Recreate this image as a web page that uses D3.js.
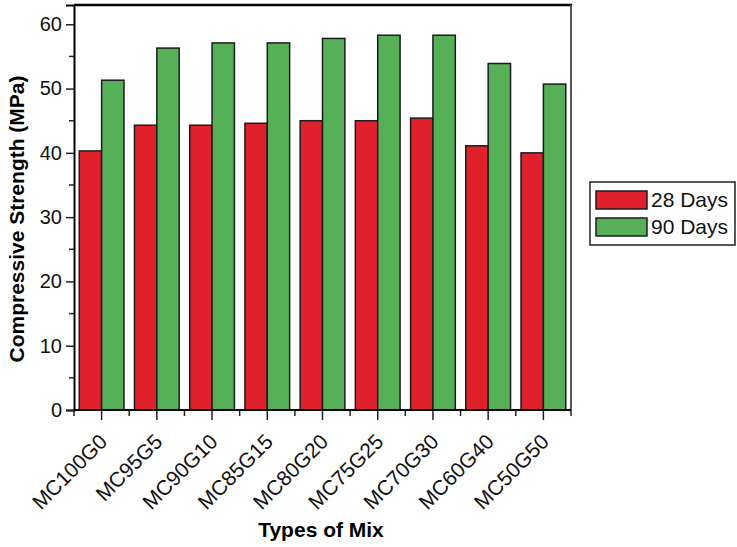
<!DOCTYPE html>
<html>
<head>
<meta charset="utf-8">
<script src="https://cdn.jsdelivr.net/npm/d3@7"></script>
<style>
  html, body { margin: 0; padding: 0; background: #fff; }
  svg { display: block; font-family: "Liberation Sans", Arial, Helvetica, sans-serif; }
</style>
</head>
<body>
<svg id="chart" width="737" height="547"></svg>
<script>
// Mix designations and compressive strength (MPa) at two curing ages
const mixes = ["MC100G0", "MC95G5", "MC90G10", "MC85G15", "MC80G20", "MC75G25", "MC70G30", "MC60G40", "MC50G50"];
const seriesNames = ["28 Days", "90 Days"];
const days28 = [40.3, 44.3, 44.3, 44.6, 45.0, 45.0, 45.4, 41.1, 40.0];
const days90 = [51.3, 56.3, 57.1, 57.1, 57.8, 58.3, 58.3, 53.9, 50.7];
const yTicks = [0, 10, 20, 30, 40, 50, 60];
const yMinorTicks = [5, 15, 25, 35, 45, 55];
const colors = ["#e0202a", "#55b058"];

const svg = d3.select("#chart");
const plotLeft = 74, plotRight = 571, plotTop = 5, plotBottom = 410;

const x0 = d3.scaleBand().domain(mixes).range([plotLeft, plotRight]).paddingInner(0.19).paddingOuter(0.095);
const x1 = d3.scaleBand().domain(seriesNames).range([0, x0.bandwidth()]);
const y = d3.scaleLinear().domain([0, 63]).range([plotBottom, plotTop]);

const seriesValues = [days28, days90];

// bars
const groups = svg.append("g").selectAll("g")
  .data(mixes)
  .join("g")
  .attr("transform", d => `translate(${x0(d)},0)`);

groups.selectAll("rect")
  .data((d, i) => seriesNames.map((s, k) => ({ s, k, v: seriesValues[k][i] })))
  .join("rect")
  .attr("x", d => x1(d.s))
  .attr("y", d => y(d.v))
  .attr("width", x1.bandwidth())
  .attr("height", d => y(0) - y(d.v))
  .attr("fill", d => colors[d.k])
  .attr("stroke", "#1c1c1c")
  .attr("stroke-width", 1.5);

// frame: top and right edges
svg.append("line").attr("x1", plotLeft).attr("x2", plotRight + 1).attr("y1", plotTop).attr("y2", plotTop)
  .attr("stroke", "#000").attr("stroke-width", 2.5);
svg.append("line").attr("x1", plotRight).attr("x2", plotRight).attr("y1", plotTop).attr("y2", plotBottom)
  .attr("stroke", "#555").attr("stroke-width", 2);

// y axis
const yAxis = svg.append("g").attr("transform", `translate(${plotLeft},0)`)
  .call(d3.axisLeft(y).tickValues(yTicks).tickSize(8).tickPadding(4).tickFormat(d3.format("d")));
yAxis.attr("font-family", null);
yAxis.select(".domain").attr("stroke", "#000").attr("stroke-width", 2);
yAxis.selectAll(".tick line").attr("stroke", "#222").attr("stroke-width", 1.5);
yAxis.selectAll(".tick text").attr("font-size", 20).attr("fill", "#111");
svg.append("g").selectAll("line").data(yMinorTicks).join("line")
  .attr("x1", plotLeft - 5).attr("x2", plotLeft).attr("y1", d => y(d)).attr("y2", d => y(d))
  .attr("stroke", "#222").attr("stroke-width", 1.5);

// x axis: major ticks at group centres, minor ticks between groups
const xAxis = svg.append("g").attr("transform", `translate(0,${plotBottom})`);
xAxis.append("line").attr("x1", plotLeft).attr("x2", plotRight).attr("stroke", "#000").attr("stroke-width", 2);
xAxis.selectAll(".major").data(mixes).join("line").attr("class", "major")
  .attr("x1", d => x0(d) + x0.bandwidth() / 2).attr("x2", d => x0(d) + x0.bandwidth() / 2)
  .attr("y1", 0).attr("y2", 10).attr("stroke", "#222").attr("stroke-width", 1.5);
const step = x0.step();
xAxis.selectAll(".minor").data(d3.range(mixes.length + 1)).join("line").attr("class", "minor")
  .attr("x1", i => plotLeft + i * step).attr("x2", i => plotLeft + i * step)
  .attr("y1", 0).attr("y2", 6).attr("stroke", "#222").attr("stroke-width", 1.5);
xAxis.selectAll("text").data(mixes).join("text")
  .attr("transform", d => `translate(${x0(d) + x0.bandwidth() / 2 + 7},${33}) rotate(-45)`)
  .attr("text-anchor", "end")
  .attr("font-size", 21)
  .attr("fill", "#111")
  .text(d => d);

// axis titles
svg.append("text")
  .attr("x", 321).attr("y", 537)
  .attr("text-anchor", "middle")
  .attr("font-size", 21).attr("font-weight", "bold").attr("fill", "#000")
  .text("Types of Mix");
svg.append("text")
  .attr("transform", "translate(24,219) rotate(-90)")
  .attr("text-anchor", "middle")
  .attr("font-size", 21).attr("font-weight", "bold").attr("fill", "#000")
  .text("Compressive Strength (MPa)");

// legend
const legend = svg.append("g");
legend.append("rect").attr("x", 590).attr("y", 182).attr("width", 145).attr("height", 63)
  .attr("fill", "#fff").attr("stroke", "#222").attr("stroke-width", 1.5);
const items = legend.selectAll("g.item").data(seriesNames).join("g").attr("class", "item")
  .attr("transform", (d, i) => `translate(596,${191 + i * 27})`);
items.append("rect").attr("width", 51).attr("height", 18)
  .attr("fill", (d, i) => colors[i]).attr("stroke", "#1c1c1c").attr("stroke-width", 1.5);
items.append("text").attr("x", 55).attr("y", 16)
  .attr("font-size", 21).attr("fill", "#111").text(d => d);
</script>
</body>
</html>
